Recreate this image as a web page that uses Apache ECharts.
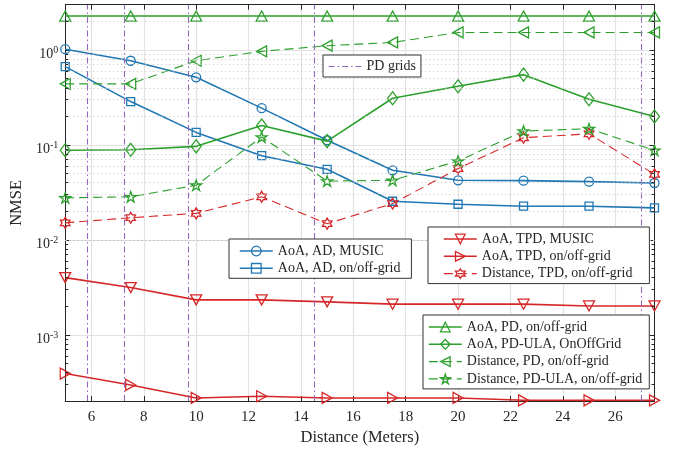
<!DOCTYPE html>
<html>
<head>
<meta charset="utf-8">
<script src="https://cdn.jsdelivr.net/npm/echarts@6/dist/echarts.min.js"></script>
<style>html,body{margin:0;padding:0;background:#fff;}#c{width:677px;height:451px;}</style>
</head>
<body>
<div id="c"></div>
<script>
// ---------------- data ----------------
const distances = [5, 7.5, 10, 12.5, 15, 17.5, 20, 22.5, 25, 27.5];
const aoaAdMusic = [1.02, 0.77, 0.515, 0.244, 0.112, 0.054, 0.0424, 0.042, 0.041, 0.0397];
const aoaAdGrid = [0.668, 0.286, 0.1355, 0.077, 0.0553, 0.0255, 0.0237, 0.0226, 0.0226, 0.0217];
const aoaTpdMusic = [0.0040, 0.00314, 0.00233, 0.00233, 0.00222, 0.0021, 0.0021, 0.0021, 0.00201, 0.00201];
const aoaTpdGrid = [0.00039, 0.000296, 0.000216, 0.000225, 0.000216, 0.000216, 0.000216, 0.000204, 0.000204, 0.000204];
const distTpdGrid = [0.0151, 0.0171, 0.019, 0.0284, 0.0148, 0.0241, 0.0563, 0.119, 0.131, 0.049];
const aoaPdGrid = [2.28, 2.28, 2.28, 2.28, 2.28, 2.28, 2.28, 2.28, 2.28, 2.28];
const aoaPdUla = [0.0877, 0.089, 0.0966, 0.160, 0.1096, 0.31, 0.415, 0.55, 0.303, 0.1995];
const distPdGrid = [0.44, 0.44, 0.77, 0.967, 1.11, 1.2, 1.53, 1.53, 1.53, 1.53];
const distPdUla = [0.0277, 0.0284, 0.0376, 0.121, 0.0416, 0.0424, 0.0676, 0.14, 0.148, 0.0877];
const pdGrids = [5.83, 7.27, 9.68, 14.49, 26.98];
const xTickLabels = ['6', '8', '10', '12', '14', '16', '18', '20', '22', '24', '26'];
const yDecades = [-3, -2, -1, 0];

const X_MIN = 5, X_MAX = 27.5, Y_MIN = 2e-4, Y_MAX = 3;
const FONT = '"Liberation Serif", "Times New Roman", serif';
const TXT = '#262626';
const BLUE = '#1f77b4', RED = '#d62728', GREEN = '#2ca02c', PURPLE = '#9467bd';
const HEXAGRAM = 'path://M100 0 L128.87 50 L186.6 50 L157.7 100 L186.6 150 L128.87 150 L100 200 L71.13 150 L13.4 150 L42.3 100 L13.4 50 L71.13 50 Z';
const PENTAGRAM = 'path://M100 0 L122.45 69.1 L195.1 69.1 L136.33 111.8 L158.8 180.9 L100 138.2 L41.2 180.9 L63.67 111.8 L4.9 69.1 L77.55 69.1 Z';
const CLEAR = 'rgba(255,255,255,0)';

function mk(name, vals, color, symbol, size, rotate, dashed) {
  return {
    name: name, type: 'line',
    data: distances.map((d, i) => [d, vals[i]]),
    symbol: symbol, symbolSize: size, symbolRotate: rotate, symbolKeepAspect: true,
    showAllSymbol: true,
    lineStyle: { color: color, width: dashed ? 1.1 : 1.6, type: dashed ? [9, 5] : 'solid' },
    itemStyle: { color: CLEAR, borderColor: color, borderWidth: 1.3 },
    emphasis: { disabled: true },
    animation: false, z: 3
  };
}
function li(name, color, dashed) {
  return {
    name: name,
    itemStyle: { color: CLEAR, borderColor: color, borderWidth: 1.3 },
    lineStyle: { color: color, width: dashed ? 1.1 : 1.6, type: dashed ? [9, 5] : 'solid' }
  };
}

// minor grid + minor ticks (axis decoration at 2..9 x 10^k)
const minorVals = [];
for (let e = -4; e <= 0; e++) for (let k = 2; k <= 9; k++) {
  const v = k * Math.pow(10, e);
  if (v > Y_MIN * 1.0001 && v < Y_MAX * 0.9999) minorVals.push(v);
}
const tickLen = 3 / 26.24;
const minorMark = [];
minorVals.forEach(v => minorMark.push({ yAxis: v }));
const minorTicks = [];
minorVals.forEach(v => {
  minorTicks.push([{ coord: [X_MIN, v] }, { coord: [X_MIN + tickLen, v] }]);
  minorTicks.push([{ coord: [X_MAX - tickLen, v] }, { coord: [X_MAX, v] }]);
});

const series = [
  mk('AoA, AD, MUSIC', aoaAdMusic, BLUE, 'circle', 9, 0, false),
  mk('AoA, AD, on/off-grid', aoaAdGrid, BLUE, 'rect', 8, 0, false),
  mk('AoA, TPD, MUSIC', aoaTpdMusic, RED, 'triangle', [11, 10], 180, false),
  mk('AoA, TPD, on/off-grid', aoaTpdGrid, RED, 'triangle', [11, 10], -90, false),
  mk('Distance, TPD, on/off-grid', distTpdGrid, RED, HEXAGRAM, 11, 0, true),
  mk('AoA, PD, on/off-grid', aoaPdGrid, GREEN, 'triangle', [11, 10], 0, false),
  mk('AoA, PD-ULA, OnOffGrid', aoaPdUla, GREEN, 'diamond', [10, 13], 0, false),
  mk('Distance, PD, on/off-grid', distPdGrid, GREEN, 'triangle', [11, 10], 90, true),
  mk('Distance, PD-ULA, on/off-grid', distPdUla, GREEN, PENTAGRAM, 11, 0, true),
  {
    name: 'PD grids', type: 'line', data: [], symbol: 'none', animation: false, z: 2,
    lineStyle: { color: PURPLE, width: 1.1, type: [6, 3, 1.5, 3] },
    itemStyle: { color: PURPLE },
    markLine: {
      silent: true, symbol: 'none', animation: false,
      label: { show: false },
      lineStyle: { color: PURPLE, width: 1.1, type: [6, 3, 1.5, 3] },
      data: pdGrids.map(x => ({ xAxis: x }))
    }
  },
  {
    name: '_minor', type: 'line', data: [], symbol: 'none', animation: false, z: 1,
    markLine: {
      silent: true, symbol: 'none', animation: false, label: { show: false },
      lineStyle: { color: '#c4c4c4', width: 1, type: [1, 3] },
      data: minorMark
    }
  },
  {
    name: '_minorTicks', type: 'line', data: [], symbol: 'none', animation: false, z: 4,
    markLine: {
      silent: true, symbol: 'none', animation: false, label: { show: false },
      lineStyle: { color: TXT, width: 1, type: 'solid' },
      data: minorTicks
    }
  }
];

const legendBase = {
  orient: 'vertical', itemWidth: 33, itemHeight: 12, itemGap: 3.3,
  textStyle: { fontFamily: FONT, fontSize: 14, color: TXT },
  backgroundColor: '#fff', borderColor: '#333', borderWidth: 1, borderRadius: 0,
  selectedMode: false, z: 10
};

const option = {
  backgroundColor: '#fff',
  animation: false,
  grid: { left: 64, right: 22.5, top: 4.7, bottom: 49, containLabel: false },
  xAxis: [{
    type: 'value', min: X_MIN, max: X_MAX, splitNumber: 11,
    name: 'Distance (Meters)', nameLocation: 'middle', nameGap: 27,
    nameTextStyle: { fontFamily: FONT, fontSize: 16.5, color: TXT },
    axisLine: { show: true, onZero: false, lineStyle: { color: TXT, width: 1 } },
    axisTick: { show: true, inside: true, length: 5, lineStyle: { color: TXT } },
    axisLabel: {
      margin: 8, fontFamily: FONT, fontSize: 15, color: TXT,
      formatter: v => { const s = String(Math.round(v * 1000) / 1000); return xTickLabels.indexOf(s) >= 0 ? s : ''; }
    },
    splitLine: { show: true, lineStyle: { color: '#e2e2e2', width: 1.2 } }
  }, {
    type: 'value', position: 'top', min: X_MIN, max: X_MAX, splitNumber: 11,
    axisLine: { show: true, onZero: false, lineStyle: { color: TXT, width: 1 } },
    axisTick: { show: true, inside: true, length: 5, lineStyle: { color: TXT } },
    axisLabel: { show: false }, splitLine: { show: false }
  }],
  yAxis: [{
    type: 'log', min: Y_MIN, max: Y_MAX, logBase: 10,
    name: 'NMSE', nameLocation: 'middle', nameGap: 39, nameRotate: 90,
    nameTextStyle: { fontFamily: FONT, fontSize: 16.5, color: TXT },
    axisLine: { show: true, onZero: false, lineStyle: { color: TXT, width: 1 } },
    axisTick: { show: true, inside: true, length: 5, lineStyle: { color: TXT } },
    axisLabel: {
      margin: 7, color: TXT, padding: [7, 0, 0, 0],
      formatter: v => {
        const l = Math.log10(v), e = Math.round(l);
        if (Math.abs(l - e) > 1e-6 || yDecades.indexOf(e) < 0) return '';
        return '{b|10}{s|' + e + '}';
      },
      rich: {
        b: { fontFamily: FONT, fontSize: 14, color: TXT, lineHeight: 16, verticalAlign: 'bottom' },
        s: { fontFamily: FONT, fontSize: 10, color: TXT, lineHeight: 3, verticalAlign: 'top' }
      }
    },
    splitLine: { show: true, lineStyle: { color: '#e2e2e2', width: 1.2 } }
  }, {
    type: 'log', position: 'right', min: Y_MIN, max: Y_MAX, logBase: 10,
    axisLine: { show: true, onZero: false, lineStyle: { color: TXT, width: 1 } },
    axisTick: { show: true, inside: true, length: 5, lineStyle: { color: TXT } },
    axisLabel: { show: false }, splitLine: { show: false }
  }],
  legend: [
    Object.assign({}, legendBase, { left: 323, top: 55, padding: [4.5, 5, 3.5, 5],
      data: [{ name: 'PD grids', itemStyle: { color: CLEAR, borderColor: CLEAR, borderWidth: 0, opacity: 0 },
               lineStyle: { color: PURPLE, width: 1.1, type: [6, 3, 1.5, 3], opacity: 1 } }] }),
    Object.assign({}, legendBase, { left: 229, top: 239, padding: [5, 11, 3, 10],
      data: [li('AoA, AD, MUSIC', BLUE, false), li('AoA, AD, on/off-grid', BLUE, false)] }),
    Object.assign({}, legendBase, { left: 428, top: 227, padding: [5, 17, 3, 15],
      data: [li('AoA, TPD, MUSIC', RED, false), li('AoA, TPD, on/off-grid', RED, false), li('Distance, TPD, on/off-grid', RED, true)] }),
    Object.assign({}, legendBase, { left: 423, top: 315, padding: [5, 7, 3, 5],
      data: [li('AoA, PD, on/off-grid', GREEN, false), li('AoA, PD-ULA, OnOffGrid', GREEN, false),
             li('Distance, PD, on/off-grid', GREEN, true), li('Distance, PD-ULA, on/off-grid', GREEN, true)] })
  ],
  series: series
};

const chart = echarts.init(document.getElementById('c'), null, { renderer: 'canvas' });
chart.setOption(option);
</script>
</body>
</html>
